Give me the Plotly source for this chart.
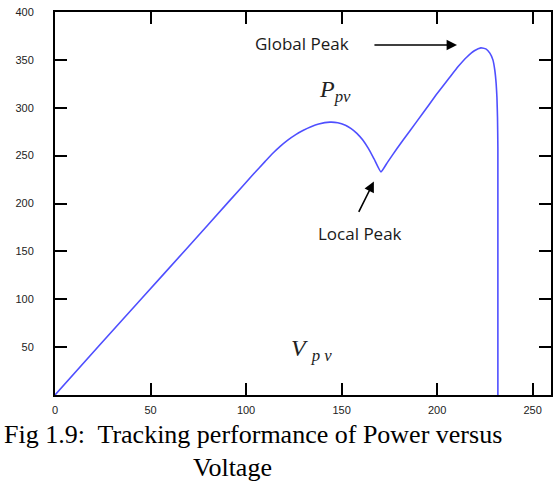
import plotly.graph_objects as go

# PV curve: voltage (V) and power (W)
voltage = [0, 22.8, 45.7, 68.5, 91.4, 104, 110, 114, 118, 122, 126, 130, 134, 138,
           143.9, 148, 152, 155, 158, 161, 164, 167, 170.6,
           174, 179, 185.8, 192.6, 199.5, 206.7, 211, 215.6, 219.5, 222.9, 225.5, 227.6,
           229.2, 230.2, 230.9, 231.3, 231.6, 231.8, 231.8]
power = [0, 51, 101.5, 152, 203, 231, 244, 252.5, 260, 266.5, 272, 276.5, 280.2, 283,
         285, 284.4, 281.8, 278.3, 273.3, 266.5, 257.5, 246.5, 233,
         243, 257.5, 276, 294.5, 313.5, 332, 343, 353, 359.5, 362.5, 361.5, 357,
         350, 339, 325, 311, 290, 258, 0]

x_ticks = [0, 50, 100, 150, 200, 250]
y_ticks = [50, 100, 150, 200, 250, 300, 350, 400]

W, H = 559, 493
L, R, T, B = 55, 8, 12, 98

fig = go.Figure()
fig.add_trace(go.Scatter(x=voltage, y=power, mode="lines",
                         line=dict(color="#4f4fff", width=1.6, shape="spline", smoothing=0.4),
                         showlegend=False, hoverinfo="skip"))

axis_common = dict(showline=True, linecolor="black", linewidth=2, mirror="ticks",
                   ticks="inside", ticklen=12, tickwidth=2, tickcolor="black",
                   showgrid=False, zeroline=False, automargin=False,
                   tickfont=dict(family="Liberation Sans", size=11, color="#222222"))

fig.update_xaxes(range=[0, 259.6], tickvals=x_ticks, ticklabelstandoff=4, **axis_common)
fig.update_yaxes(range=[0, 400], tickvals=y_ticks, ticklabelstandoff=17, **axis_common)

label_font = dict(family="Open Sans", size=17, color="#1a1a1a")
fig.add_annotation(x=129.3, y=366.7, text="Global Peak", showarrow=False, font=label_font)
fig.add_annotation(x=159.6, y=168.8, text="Local Peak", showarrow=False, font=label_font)

# arrows
fig.add_annotation(x=210.4, y=365.6, ax=166.4, ay=365.6, axref="x", ayref="y",
                   xref="x", yref="y", text="", showarrow=True, arrowhead=2,
                   arrowsize=1.3, arrowwidth=1.6, arrowcolor="black")
fig.add_annotation(x=166.9, y=222.9, ax=158.6, ay=189.6, axref="x", ayref="y",
                   xref="x", yref="y", text="", showarrow=True, arrowhead=2,
                   arrowsize=1.3, arrowwidth=1.6, arrowcolor="black")

serif = "Liberation Serif"
fig.add_annotation(x=146.5, y=318, text="<i>P</i><sub><i>pv</i></sub>", showarrow=False,
                   font=dict(family=serif, size=24, color="#222222"))
fig.add_annotation(x=134.5, y=47, text="<i>V</i> <sub><i>p v</i></sub>", showarrow=False,
                   font=dict(family=serif, size=24, color="#222222"))

cap_font = dict(family=serif, size=26, color="black")
fig.add_annotation(xref="paper", yref="paper", x=-0.107, y=-0.1044, xanchor="left",
                   yanchor="middle", text="Fig 1.9:  Tracking performance of Power versus",
                   showarrow=False, font=cap_font)
fig.add_annotation(xref="paper", yref="paper", x=0.357, y=-0.188, xanchor="center",
                   yanchor="middle", text="Voltage", showarrow=False, font=cap_font)

fig.update_layout(width=W, height=H, margin=dict(l=L, r=R, t=T, b=B),
                  paper_bgcolor="white", plot_bgcolor="white")

fig.write_html("out.html", config={"displayModeBar": False},
               post_script="document.body.style.margin='0';document.body.style.overflow='hidden';")
